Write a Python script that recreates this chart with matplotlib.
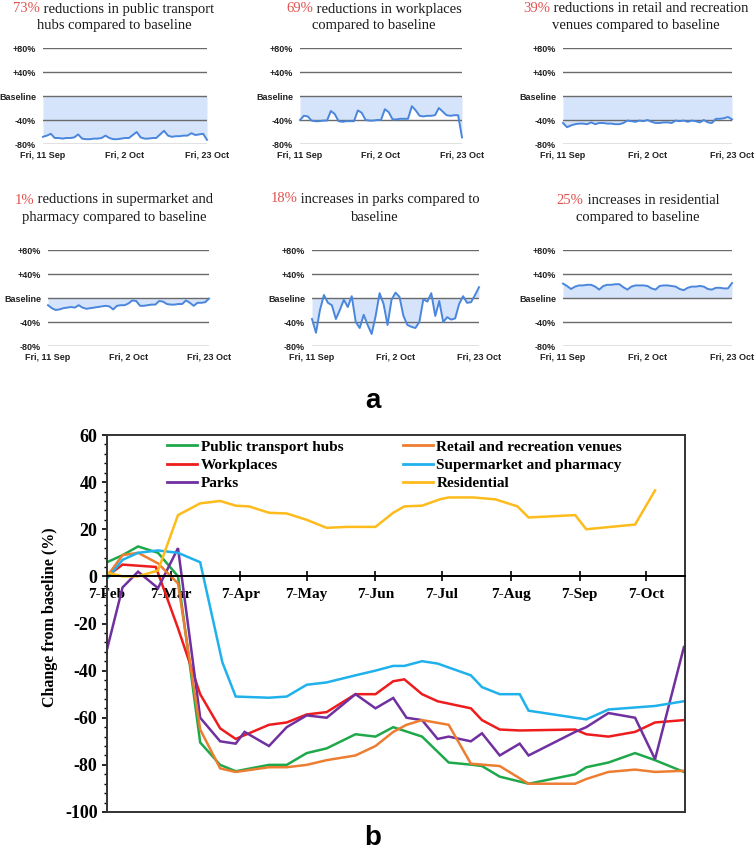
import numpy as np
import pandas as pd
import matplotlib
matplotlib.use('Agg')
import matplotlib.pyplot as plt
from matplotlib.offsetbox import TextArea, HPacker, AnnotationBbox
from matplotlib.ticker import MultipleLocator
from matplotlib.lines import Line2D

plt.rcParams['axes.unicode_minus'] = False

# ------------------------------------------------------------------ data (a)
small_start, small_end = '2020-09-11', '2020-10-23'
small_xtick_dates = ['2020-09-11', '2020-10-02', '2020-10-23']
small_xtick_labels = ['Fri, 11 Sep', 'Fri, 2 Oct', 'Fri, 23 Oct']
small_ytick_values = [80, 40, 0, -40, -80]
small_ytick_labels = ['+80%', '+40%', 'Baseline', '-40%', '-80%']

pct_texts = ['73%', '69%', '39%', '1%', '18%', '25%']
title_line1 = [' reductions in public transport', ' reductions in workplaces',
               ' reductions in retail and recreation', ' reductions in supermarket and',
               ' increases in parks compared to', ' increases in residential']
title_line2 = ['hubs compared to baseline', 'compared to baseline',
               'venues compared to baseline', 'pharmacy compared to baseline',
               'baseline', 'compared to baseline']

transit_daily = [-68, -66, -63, -70, -70, -71, -70, -70, -69, -64, -71, -72, -72, -71, -71,
                 -70, -66, -70, -72, -72, -71, -70, -70, -65, -60, -69, -71, -71, -70, -70,
                 -64, -58, -66, -68, -67, -67, -66, -66, -62, -65, -64, -63, -73]
workplaces_daily = [-40, -33, -34, -41, -42, -42, -41, -41, -25, -30, -42, -43, -42, -42, -42,
                    -24, -28, -40, -41, -41, -40, -40, -22, -27, -39, -39, -38, -38, -38, -17,
                    -24, -33, -34, -33, -33, -32, -20, -26, -32, -33, -32, -32, -69]
retail_daily = [-45, -52, -49, -47, -46, -46, -47, -44, -47, -45, -45, -46, -46, -47, -47,
                -45, -41, -42, -43, -41, -42, -40, -43, -45, -45, -44, -44, -45, -41, -42,
                -41, -43, -41, -42, -44, -40, -44, -45, -38, -38, -37, -35, -39]
supermarket_daily = [-12, -17, -20, -19, -17, -16, -15, -16, -12, -16, -18, -17, -16, -15, -14,
                     -13, -14, -19, -13, -12, -12, -9, -4, -5, -13, -13, -12, -11, -11, -5,
                     -6, -10, -11, -11, -10, -10, -4, -8, -13, -8, -8, -7, -1]
parks_daily = [-35, -58, -20, 5, -8, -12, -35, -20, -3, -15, 3, -40, -50, -28, -45,
               -60, -30, 8, -10, -45, -3, 9, 2, -30, -45, -48, -50, -40, -2, -6,
               8, -30, -5, -40, -32, -36, -34, -10, 3, -8, -7, 5, 18]
residential_daily = [24, 20, 15, 19, 21, 21, 22, 22, 19, 14, 20, 22, 22, 23, 23,
                     18, 14, 19, 21, 21, 21, 20, 16, 14, 20, 21, 21, 20, 19, 15,
                     13, 17, 19, 19, 20, 19, 15, 14, 17, 17, 16, 16, 25]
small_series = [transit_daily, workplaces_daily, retail_daily,
                supermarket_daily, parks_daily, residential_daily]

# ------------------------------------------------------------------ data (b)
b_names = ['Public transport hubs', 'Workplaces', 'Parks',
           'Retail and recreation venues', 'Supermarket and pharmacy', 'Residential']

transit_dates = ['2020-02-07', '2020-02-14', '2020-02-21', '2020-03-01', '2020-03-10', '2020-03-20',
                 '2020-03-29', '2020-04-05', '2020-04-20', '2020-04-28', '2020-05-07', '2020-05-16',
                 '2020-05-29', '2020-06-07', '2020-06-15', '2020-06-28', '2020-07-10', '2020-07-21',
                 '2020-07-25', '2020-08-02', '2020-08-15', '2020-09-05', '2020-09-10', '2020-09-20',
                 '2020-10-02', '2020-10-11', '2020-10-24']
transit_vals = [6, 9, 12.7, 10, 0, -70.5, -80, -82.7, -80, -80, -75, -73, -67, -68, -64, -68,
                -79, -80, -80.5, -85, -88, -84, -81, -79, -75, -78, -83]

work_dates = ['2020-02-07', '2020-02-14', '2020-02-29', '2020-03-10', '2020-03-20', '2020-03-29',
              '2020-04-05', '2020-04-20', '2020-04-28', '2020-05-07', '2020-05-16', '2020-05-29',
              '2020-06-07', '2020-06-15', '2020-06-20', '2020-06-28', '2020-07-05', '2020-07-20',
              '2020-07-25', '2020-08-02', '2020-08-11', '2020-09-05', '2020-09-10', '2020-09-20',
              '2020-10-02', '2020-10-11', '2020-10-24']
work_vals = [0, 5, 4, -22, -50, -64.5, -69, -63, -62, -58.6, -57.6, -50, -50, -44.5, -43.7, -50,
             -53, -56, -61, -65, -65.4, -65, -67, -68, -66, -62, -61]

parks_dates = ['2020-02-07', '2020-02-14', '2020-02-21', '2020-03-01', '2020-03-10', '2020-03-20',
               '2020-03-29', '2020-04-05', '2020-04-09', '2020-04-20', '2020-04-28', '2020-05-07',
               '2020-05-16', '2020-05-29', '2020-06-07', '2020-06-15', '2020-06-21', '2020-06-28',
               '2020-07-05', '2020-07-10', '2020-07-20', '2020-07-25', '2020-08-02', '2020-08-11',
               '2020-08-15', '2020-09-05', '2020-09-10', '2020-09-20', '2020-10-02', '2020-10-11',
               '2020-10-24']
parks_vals = [-31, -4.7, 2, -5, 12, -60, -70, -71, -66, -72, -64, -59, -60, -50, -56, -51.6, -60,
              -61, -69, -68, -70, -66.6, -76, -71, -76, -66, -64, -58, -60, -77.6, -30]

retail_dates = ['2020-02-07', '2020-02-14', '2020-02-21', '2020-03-01', '2020-03-10', '2020-03-20',
                '2020-03-29', '2020-04-05', '2020-04-20', '2020-04-28', '2020-05-07', '2020-05-16',
                '2020-05-29', '2020-06-07', '2020-06-15', '2020-06-21', '2020-06-28', '2020-07-10',
                '2020-07-20', '2020-08-02', '2020-08-15', '2020-09-05', '2020-09-10', '2020-09-20',
                '2020-10-02', '2020-10-11', '2020-10-24']
retail_vals = [0, 9, 10, 5.5, -3, -65, -81.5, -83, -81, -81, -80, -78, -76, -72, -66, -63, -61,
               -63, -79.5, -80.5, -88, -88, -86, -83, -82, -83, -82.5]

super_dates = ['2020-02-07', '2020-02-14', '2020-02-21', '2020-03-01', '2020-03-10', '2020-03-20',
               '2020-03-30', '2020-04-05', '2020-04-20', '2020-04-28', '2020-05-07', '2020-05-16',
               '2020-05-29', '2020-06-07', '2020-06-15', '2020-06-20', '2020-06-28', '2020-07-05',
               '2020-07-20', '2020-07-25', '2020-08-02', '2020-08-11', '2020-08-15', '2020-09-05',
               '2020-09-10', '2020-09-20', '2020-10-11', '2020-10-24']
super_vals = [-1, 7, 10, 11, 10, 6, -36.5, -51, -51.5, -51, -46, -45, -42, -40, -38, -38, -36,
              -37, -42, -47, -50, -50, -57, -60, -60.7, -56.5, -55, -53]

resid_dates = ['2020-02-07', '2020-02-14', '2020-02-21', '2020-03-01', '2020-03-10', '2020-03-20',
               '2020-03-29', '2020-04-05', '2020-04-11', '2020-04-20', '2020-04-28', '2020-05-07',
               '2020-05-16', '2020-05-25', '2020-06-07', '2020-06-15', '2020-06-20', '2020-06-28',
               '2020-07-06', '2020-07-10', '2020-07-21', '2020-07-31', '2020-08-10', '2020-08-15',
               '2020-09-05', '2020-09-10', '2020-10-02', '2020-10-11']
resid_vals = [1.7, 0, 0, 2.5, 26, 31, 32, 30, 29.7, 27, 26.7, 24, 20.6, 21, 21, 27, 29.7, 30,
              32.7, 33.5, 33.5, 32.7, 29.7, 25, 26, 20, 22, 36.5]

b_dates = [transit_dates, work_dates, parks_dates, retail_dates, super_dates, resid_dates]
b_vals = [transit_vals, work_vals, parks_vals, retail_vals, super_vals, resid_vals]
b_colors = ['#1fa84a', '#ee1c1c', '#7030a0', '#ed7d31', '#1fb1ec', '#fdbb1c']

b_xtick_dates = ['2020-02-07', '2020-03-07', '2020-04-07', '2020-05-07', '2020-06-07',
                 '2020-07-07', '2020-08-07', '2020-09-07', '2020-10-07']
b_xtick_labels = ['7-Feb', '7-Mar', '7-Apr', '7-May', '7-Jun', '7-Jul', '7-Aug', '7-Sep', '7-Oct']

# ------------------------------------------------------------------ layout
W, H = 755, 850
fig = plt.figure(figsize=(W / 100, H / 100), dpi=100)


def fx(px):
    return px / W


def fy(py):
    return 1 - py / H


SERIF = 'Liberation Serif'
SANS = 'Liberation Sans'
PCT_RED = '#e0524f'
LINE_BLUE = '#4a86dc'
FILL_BLUE = '#d6e4fb'
GRID = '#6a6a6a'

panel_boxes = [(43, 207, 48, 144), (300, 462, 48, 144), (563, 732, 48, 144),
               (48, 209, 250, 346), (312, 479, 250, 346), (563, 732, 250, 346)]
title_pos = [(114, 9, 26), (374, 9, 26), (636, 9, 26),
             (114, 200, 218), (375, 199, 217), (638, 200, 218)]

small_dates = pd.date_range(small_start, small_end, freq='D')

for i in range(6):
    l, r, t, b = panel_boxes[i]
    ax = fig.add_axes([fx(l), fy(b), (r - l) / W, (b - t) / H])
    vals = np.array(small_series[i], dtype=float)
    ax.fill_between(small_dates, 0, vals, color=FILL_BLUE, lw=0, zorder=1)
    for v in small_ytick_values:
        ax.axhline(v, color=GRID, lw=1.0, zorder=2)
    ax.plot(small_dates, vals, color=LINE_BLUE, lw=1.4, zorder=3, clip_on=False)
    ax.set_xlim(small_dates[0], small_dates[-1])
    ax.set_ylim(-80, 80)
    for s in ax.spines.values():
        s.set_visible(False)
    ax.set_yticks(small_ytick_values)
    ax.set_yticklabels(small_ytick_labels, fontsize=6.5, fontweight='bold',
                       family=SANS, color='#222222')
    ax.set_xticks(pd.to_datetime(small_xtick_dates))
    ax.set_xticklabels(small_xtick_labels, fontsize=6.5, fontweight='bold',
                       family=SANS, color='#222222')
    ax.tick_params(axis='y', length=0, pad=5)
    ax.tick_params(axis='x', length=0, pad=5)
    ax.patch.set_alpha(0)

    cx, y1, y2 = title_pos[i]
    ta1 = TextArea(pct_texts[i], textprops=dict(color=PCT_RED, fontsize=10.5, family=SERIF))
    ta2 = TextArea(title_line1[i], textprops=dict(color='#1a1a1a', fontsize=10.5, family=SERIF))
    box = HPacker(children=[ta1, ta2], align='baseline', pad=0, sep=0)
    ab = AnnotationBbox(box, (fx(cx), fy(y1)), xycoords='figure fraction', frameon=False,
                        box_alignment=(0.5, 0.5), pad=0)
    fig.add_artist(ab)
    fig.text(fx(cx), fy(y2), title_line2[i], ha='center', va='center', color='#1a1a1a',
             fontsize=10.5, family=SERIF)

fig.text(fx(373), fy(401), 'a', ha='center', va='center', fontsize=20,
         fontweight='bold', family=SANS)
fig.text(fx(373), fy(838), 'b', ha='center', va='center', fontsize=20,
         fontweight='bold', family=SANS)

# ------------------------------------------------------------------ panel b
axb = fig.add_axes([fx(107), fy(812), (685 - 107) / W, (812 - 435) / H])
handles = []
for name, d, v, c in zip(b_names, b_dates, b_vals, b_colors):
    h, = axb.plot(pd.to_datetime(d), v, color=c, lw=1.8, label=name, solid_joinstyle='miter')
    handles.append(h)

axb.set_xlim(pd.Timestamp('2020-02-07'), pd.Timestamp('2020-10-24 12:00'))
axb.set_ylim(-100, 60)

FRAME = '#333333'
axb.spines['bottom'].set_position(('data', 0))
axb.spines['bottom'].set_color('black')
axb.spines['bottom'].set_linewidth(1.4)
for s in ['top', 'right', 'left']:
    axb.spines[s].set_color(FRAME)
    axb.spines[s].set_linewidth(1.4)
axb.add_line(Line2D([0, 1], [0, 0], transform=axb.transAxes, color=FRAME, lw=1.4,
                    clip_on=False))

axb.set_xticks(pd.to_datetime(b_xtick_dates))
axb.set_xticklabels(b_xtick_labels, fontsize=11, fontweight='bold', family=SERIF)
axb.tick_params(axis='x', direction='inout', length=6.5, width=1.2, pad=5, color='black')

axb.yaxis.set_major_locator(MultipleLocator(20))
axb.yaxis.set_minor_locator(MultipleLocator(4))
axb.tick_params(axis='y', which='major', direction='out', length=3.8, width=1.2, pad=3)
axb.tick_params(axis='y', which='minor', direction='out', length=2.2, width=1.0)
for lab in axb.get_yticklabels():
    lab.set_fontsize(13)
    lab.set_fontweight('bold')
    lab.set_family(SERIF)

fig.text(fx(50), fy(617), 'Change from baseline (%)', rotation=90, ha='center', va='center',
         fontsize=11.5, fontweight='bold', family=SERIF)

leg = axb.legend(handles=handles, labels=b_names, ncol=2, frameon=False,
                 loc='upper left', bbox_to_anchor=(fx(167), fy(440)),
                 bbox_transform=fig.transFigure, borderpad=0, borderaxespad=0,
                 handlelength=1.95, handletextpad=0.25, labelspacing=0.3,
                 columnspacing=3.9, prop=dict(family=SERIF, weight='bold', size=11))
for lh in leg.get_lines():
    lh.set_linewidth(2.0)

fig.savefig('out.png', dpi=100)
